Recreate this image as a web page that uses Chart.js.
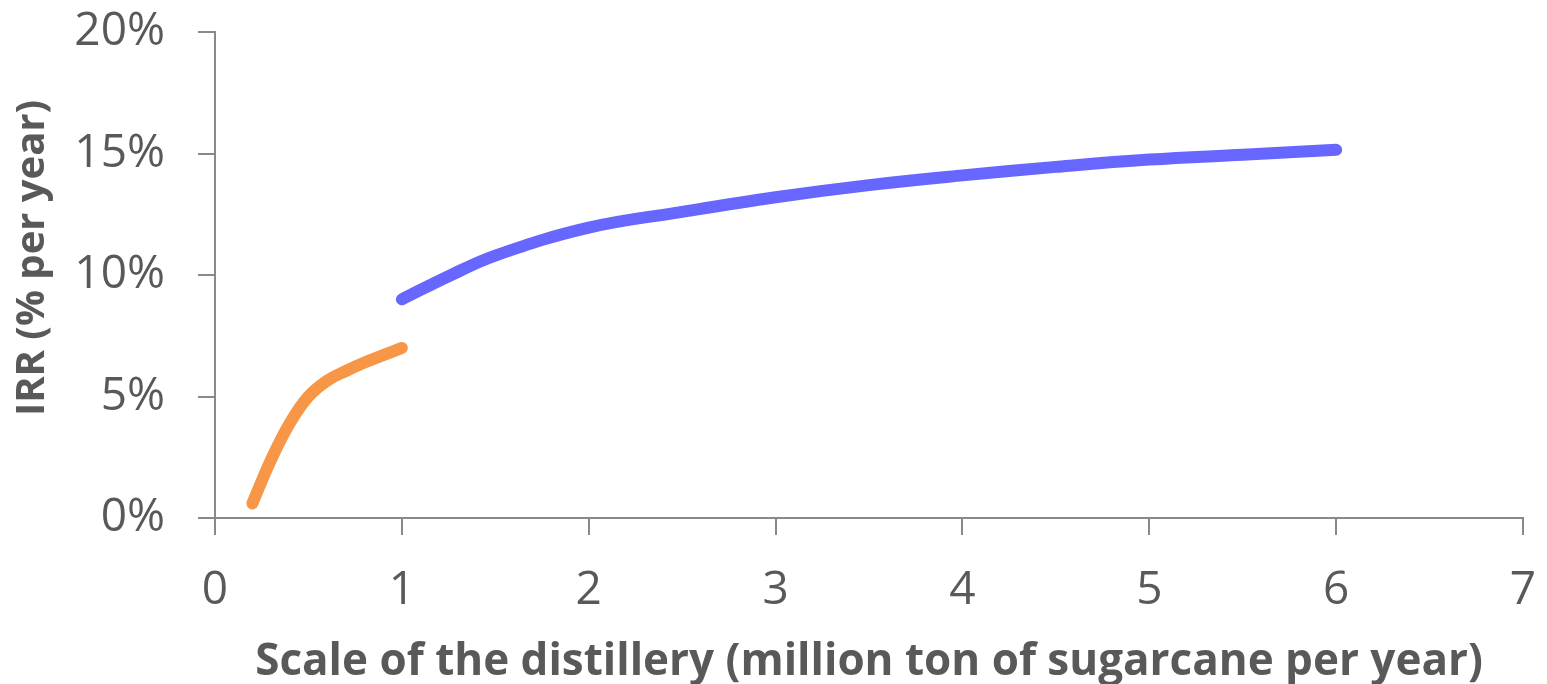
<!DOCTYPE html>
<html>
<head>
<meta charset="utf-8">
<script src="https://cdn.jsdelivr.net/npm/chart.js@4.4.1/dist/chart.umd.min.js"></script>
<style>
  html, body { margin: 0; padding: 0; background: #fff; }
  #wrap { width: 1547px; height: 684px; }
</style>
</head>
<body>
<div id="wrap"><canvas id="irrChart" width="1547" height="684"></canvas></div>
<script>
// scale of the distillery (million ton of sugarcane per year) vs IRR (%)
const smallScaleX = [0.2, 0.3, 0.4, 0.5, 0.6, 0.7, 0.8, 0.9, 1.0];
const smallScaleIRR = [0.6, 2.4, 3.9, 5.0, 5.65, 6.05, 6.4, 6.7, 7.0];
const largeScaleX = [1.0, 1.25, 1.5, 2.0, 2.5, 3.0, 3.5, 4.0, 4.5, 5.0, 5.5, 6.0];
const largeScaleIRR = [9.0, 9.95, 10.8, 11.95, 12.6, 13.2, 13.7, 14.1, 14.45, 14.75, 14.95, 15.15];
const xTicks = [0, 1, 2, 3, 4, 5, 6, 7];
const yTicks = [0, 5, 10, 15, 20];

const toPoints = (xs, ys) => xs.map((x, i) => ({ x: x, y: ys[i] }));

const textColor = '#595959';
const axisColor = '#898989';

// y axis title, drawn a bit above the middle of the axis like the original
const yTitlePlugin = {
  id: 'yTitle',
  afterDraw(chart) {
    const c = chart.ctx;
    c.save();
    c.translate(44, 258);
    c.rotate(-Math.PI / 2);
    c.fillStyle = textColor;
    c.font = 'bold 40px "Open Sans"';
    c.textAlign = 'center';
    c.textBaseline = 'alphabetic';
    c.fillText('IRR (% per year)', 0, 0);
    c.restore();
  }
};

document.addEventListener('DOMContentLoaded', () => {
  const ctx = document.getElementById('irrChart');
  new Chart(ctx.getContext('2d'), {
    type: 'scatter',
    data: {
      datasets: [
        {
          label: 'Small scale',
          data: toPoints(smallScaleX, smallScaleIRR),
          showLine: true,
          borderColor: '#F79646',
          borderWidth: 12,
          borderCapStyle: 'round',
          borderJoinStyle: 'round',
          pointRadius: 0,
          tension: 0.4
        },
        {
          label: 'Large scale',
          data: toPoints(largeScaleX, largeScaleIRR),
          showLine: true,
          borderColor: '#6767FF',
          borderWidth: 12,
          borderCapStyle: 'round',
          borderJoinStyle: 'round',
          pointRadius: 0,
          tension: 0.4
        }
      ]
    },
    plugins: [yTitlePlugin],
    options: {
      responsive: false,
      animation: false,
      layout: { padding: { top: 32, right: 24, left: 0, bottom: 0 } },
      plugins: {
        legend: { display: false },
        tooltip: { enabled: false }
      },
      scales: {
        x: {
          type: 'linear',
          min: 0,
          max: 7,
          afterFit: (scale) => {
            scale.height = 166;
            scale.paddingLeft = 0;
            scale.paddingRight = 0;
          },
          afterBuildTicks: (scale) => { scale.ticks = xTicks.map(v => ({ value: v })); },
          border: { color: axisColor, width: 2 },
          grid: { drawOnChartArea: false, drawTicks: true, tickLength: 17, color: axisColor, lineWidth: 2 },
          ticks: { color: textColor, font: { family: 'Open Sans', size: 46 }, padding: 28 },
          title: {
            display: true,
            text: 'Scale of the distillery (million ton of sugarcane per year)',
            color: textColor,
            font: { family: 'Open Sans', size: 44, weight: 'bold', lineHeight: 1 },
            padding: { top: 0, bottom: 0 }
          }
        },
        y: {
          type: 'linear',
          min: 0,
          max: 20,
          afterFit: (scale) => {
            scale.width = 215;
            scale.paddingTop = 0;
            scale.paddingBottom = 0;
          },
          afterBuildTicks: (scale) => { scale.ticks = yTicks.map(v => ({ value: v })); },
          border: { color: axisColor, width: 2 },
          grid: { drawOnChartArea: false, drawTicks: true, tickLength: 17, color: axisColor, lineWidth: 2 },
          ticks: {
            color: textColor,
            font: { family: 'Open Sans', size: 46 },
            padding: 33,
            callback: (v) => v + '%'
          }
        }
      }
    }
  });
});
</script>
</body>
</html>
